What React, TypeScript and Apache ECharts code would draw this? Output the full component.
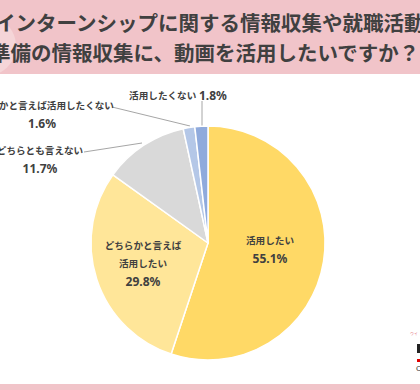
import React, { useEffect, useRef } from "react";
import * as echarts from "echarts";

const categories = [
  "活用したい",
  "どちらかと言えば活用したい",
  "どちらとも言えない",
  "どちらかと言えば活用したくない",
  "活用したくない",
];
const values = [55.1, 29.8, 11.7, 1.6, 1.8];
const displayLines = [
  ["活用したい"],
  ["どちらかと言えば", "活用したい"],
  ["どちらとも言えない"],
  ["どちらかと言えば活用したくない"],
  ["活用したくない"],
];
const colors = ["#FFD966", "#FFE699", "#D9D9D9", "#B4C7E7", "#8FAADC"];
const titleLines = [
  "インターンシップに関する情報収集や就職活動",
  "準備の情報収集に、動画を活用したいですか？",
];

// label anchor positions (centers) and leader lines
const labelPos: [number, number][] = [
  [270, 249],
  [143, 263],
  [40, 159],
  [42, 114],
  [178, 95],
];
const leaderLines: ([number, number][] | null)[] = [
  null,
  null,
  [[84, 152], [113, 147.5], [142, 143]],
  [[112, 107], [151, 116.5], [190, 126]],
  [[202, 101], [202, 113], [202, 126]],
];

export default function App() {
  const ref = useRef<HTMLDivElement>(null);
  useEffect(() => {
    if (!ref.current) return;
    const chart = echarts.init(ref.current, null, { renderer: "svg" });
    const txt = "#404040";
    const data = categories.map((name, i) => {
      const outside = i >= 2;
      let formatter: string;
      if (i === 4) {
        formatter = `{a|${displayLines[i][0]}} {b|${values[i].toFixed(1)}%}`;
      } else {
        formatter =
          displayLines[i].map((l) => `{a|${l}}`).join("\n") +
          `\n{b|${values[i].toFixed(1)}%}`;
      }
      return {
        name,
        value: values[i],
        itemStyle: { color: colors[i] },
        label: {
          show: true,
          position: outside ? "outside" : "inside",
          formatter,
        },
        labelLine: {
          show: outside,
          lineStyle: { color: "#a6a6a6", width: 1 },
        },
      };
    });
    chart.setOption({
      animation: false,
      backgroundColor: "#ffffff",
      graphic: [
        { type: "rect", shape: { x: 0, y: 0, width: 420, height: 74 }, style: { fill: "#F1C4C9" } },
        { type: "circle", shape: { cx: -14, cy: 46, r: 30 }, style: { fill: "#F5D5D8" } },
        { type: "rect", shape: { x: 0, y: 384, width: 420, height: 6 }, style: { fill: "#F1C4C9" } },
        {
          type: "text",
          x: -5,
          y: 22,
          style: {
            text: titleLines[0],
            fontSize: 20.5,
            fontWeight: "bold",
            fontFamily: "Noto Sans CJK JP",
            fill: txt,
            textAlign: "left",
            textVerticalAlign: "middle",
          },
        },
        {
          type: "text",
          x: -10,
          y: 52,
          style: {
            text: titleLines[1],
            fontSize: 20.5,
            fontWeight: "bold",
            fontFamily: "Noto Sans CJK JP",
            fill: txt,
            textAlign: "left",
            textVerticalAlign: "middle",
          },
        },
        {
          type: "text",
          x: 410,
          y: 333,
          style: { text: "ウイ", fontSize: 4, fill: "#e05a6a", textVerticalAlign: "middle" },
        },
        { type: "rect", shape: { x: 417, y: 344, width: 3, height: 9 }, style: { fill: "#222" } },
        { type: "rect", shape: { x: 417, y: 359, width: 3, height: 3 }, style: { fill: "#e00000" } },
        {
          type: "text",
          x: 416,
          y: 368,
          style: { text: "C", fontSize: 8, fill: "#333", textVerticalAlign: "middle" },
        },
      ],
      series: [
        {
          type: "pie",
          center: [208, 243],
          radius: 117,
          startAngle: 90,
          clockwise: true,
          avoidLabelOverlap: false,
          itemStyle: { borderColor: "#ffffff", borderWidth: 1.5 },
          label: {
            color: txt,
            fontFamily: "Noto Sans CJK JP",
            fontWeight: "bold",
            align: "center",
            rich: {
              a: {
                fontSize: 9.6,
                fontWeight: "bold",
                fontFamily: "Noto Sans CJK JP",
                color: txt,
                lineHeight: 18,
              },
              b: {
                fontSize: 12,
                fontWeight: "bold",
                fontFamily: "Noto Sans",
                color: txt,
                lineHeight: 18,
              },
            },
          },
          labelLayout: (params: any) => {
            const i = params.dataIndex;
            const p = labelPos[i];
            const res: any = {
              x: p[0],
              y: p[1],
              align: "center",
              verticalAlign: "middle",
            };
            if (leaderLines[i]) res.labelLinePoints = leaderLines[i];
            return res;
          },
          data,
        },
      ],
    });
    return () => chart.dispose();
  }, []);
  return (
    <div
      ref={ref}
      style={{ position: "fixed", left: 0, top: 0, width: 420, height: 390 }}
    />
  );
}
